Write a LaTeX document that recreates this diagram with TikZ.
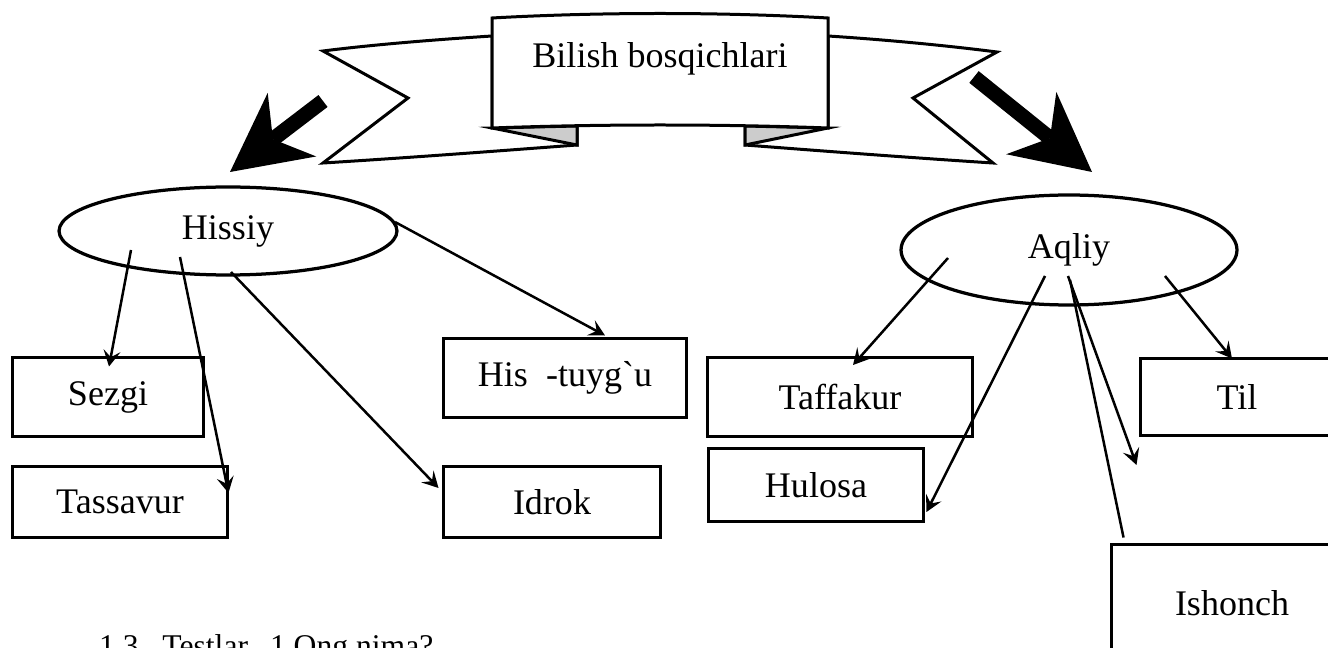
\documentclass[tikz,border=0pt]{standalone}
\usepackage{fontspec}
\setmainfont{Liberation Serif}
\usetikzlibrary{shapes.geometric, calc, arrows.meta}
\begin{document}
\begin{tikzpicture}[x=0.02cm, y=-0.02cm, font=\fontsize{20.5}{24}\selectfont]

        \tikzstyle{ovalnode} = [draw, ellipse, line width=0.065cm, inner sep=0];
        \tikzstyle{boxnode} = [draw, rectangle, line width=0.06cm, inner sep=0];
        \tikzstyle{arrow} = [line width=0.05cm, -{Stealth[length=0.32cm, width=0.34cm, inset=0.13cm]}];
        \tikzstyle{bigarrow} = [line width=0.3cm, -{Stealth[length=1.56cm, width=1.6cm, inset=0.48cm, line width=0pt]}];
        \tikzstyle{ribbon} = [draw, fill=white, line width=0.06cm];

        \useasboundingbox (0,0) rectangle (1328,648);


        \draw[ribbon] (492,36) .. controls (430,40) and (370,45) .. (323,51) -- (408,98) -- (323,163) .. controls (420,157) and (510,150) .. (577,145) -- (577,126) -- (492,126) -- cycle;
        \draw[ribbon] (828,36) .. controls (890,40) and (950,46) .. (997,52) -- (913,98) -- (993,163) .. controls (900,157) and (810,150) .. (745,145) -- (745,126) -- (828,126) -- cycle;
        \draw[ribbon, fill=gray!40] (492,128) -- (577,145) -- (577,126) -- cycle;
        \draw[ribbon, fill=gray!40] (828,128) -- (745,145) -- (745,126) -- cycle;
        \draw[ribbon] (492,18) .. controls (600,12) and (720,12) .. (828,18) -- (828,128) .. controls (720,124) and (600,124) .. (492,128) -- cycle;

        \node (BB) at (660,59) {Bilish bosqichlari};

        \coordinate (LS) at (323,101);
        \coordinate (LE) at (230,172);
        \coordinate (RS) at (974,77);
        \coordinate (RE) at (1092,172);
        \draw [bigarrow] (LS) -- (LE);
        \draw [bigarrow] (RS) -- (RE);


        \node[ovalnode, minimum width=6.76cm, minimum height=1.76cm] (HS) at (228,231) {Hissiy};
        \node[ovalnode, minimum width=6.72cm, minimum height=2.2cm] (AQ) at (1069,250) {Aqliy};

        \node[boxnode, minimum width=3.84cm, minimum height=1.6cm] (SZ) at (108,397) {Sezgi};
        \node[boxnode, minimum width=4.32cm, minimum height=1.44cm] (TS) at (120,502) {Tassavur};
        \node[boxnode, minimum width=4.88cm, minimum height=1.6cm] (HT) at (565,378) {His\ \ -tuyg\textasciigrave{}u};
        \node[boxnode, minimum width=4.36cm, minimum height=1.44cm] (ID) at (552,502) {Idrok};

        \node[boxnode, minimum width=5.3cm, minimum height=1.58cm] (TF) at (840,397) {Taffakur};
        \node[boxnode, minimum width=4.32cm, minimum height=1.48cm] (HL) at (816,485) {Hulosa};
        \node[boxnode, minimum width=3.88cm, minimum height=1.56cm] (TL) at (1237,397) {Til};
        \node[boxnode, minimum width=4.84cm, minimum height=2.36cm] (IS) at (1232,603) {Ishonch};


        \draw [arrow] ($(HS)+(-97,19)$) -- ($(SZ.north)+(1,11)$);
        \draw [arrow] ($(HS)+(-48,26)$) -- ($(TS.east)+(-1,-9)$);
        \draw [arrow] ($(HS)+(3,41)$) -- ($(ID.west)+(-3,-14)$);
        \draw [arrow] ($(HS)+(167,-9)$) -- ($(HT.north)+(40,-1)$);

        \draw [arrow] ($(AQ)+(-121,8)$) -- ($(TF.north)+(13,9)$);
        \draw [arrow] ($(AQ)+(-24,26)$) -- ($(HL.east)+(1,27)$);
        \draw [arrow] ($(AQ)+(-1,26)$) -- ($(TL.west)+(-2,68)$);
        \draw [line width=0.05cm] ($(AQ)+(1,30)$) -- ($(IS.north west)+(14,-5)$);
        \draw [arrow] ($(AQ)+(96,26)$) -- ($(TL.north)+(-5,2)$);

        \node[anchor=base west, font=\fontsize{18}{22}\selectfont] (TQ) at (93,656) {1.3.\ \ Testlar.\ \ 1.Ong nima?};

\end{tikzpicture}
\end{document}
